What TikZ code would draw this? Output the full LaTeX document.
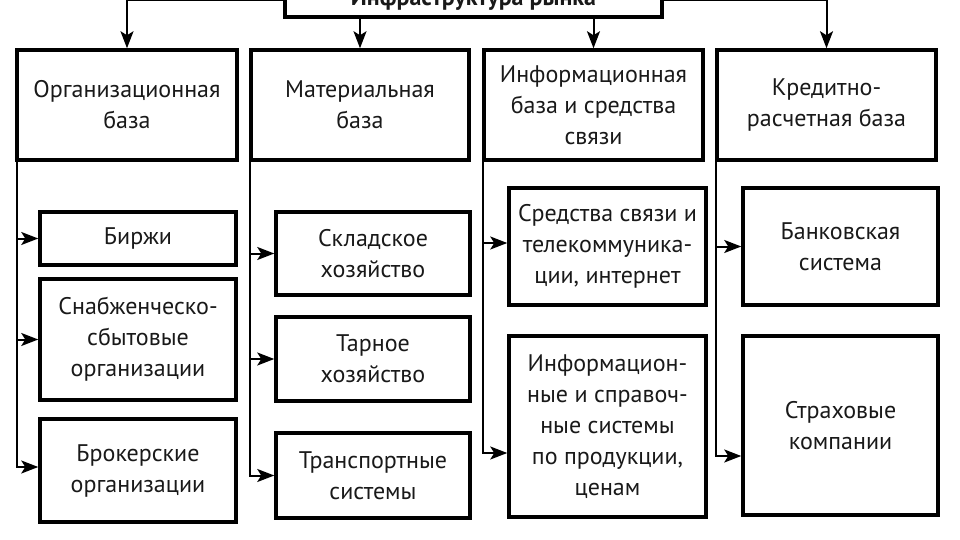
\documentclass[tikz,border=0pt]{standalone}
\usepackage{fontspec}
\setmainfont{PT Sans}
\usetikzlibrary{arrows.meta,calc}
\begin{document}
\begin{tikzpicture}[x=1pt,y=-1pt,
  box/.style={draw=black,line width=3.5pt,align=center,inner sep=2pt,
    font=\fontsize{24}{31}\selectfont,text=black!90},
  arr/.style={line width=2pt,-{Stealth[length=17pt,width=13pt,inset=4pt]}},
  ln/.style={line width=2pt}]
\useasboundingbox (0,0) rectangle (960,540);
\clip (0,0) rectangle (960,540);
% top
\node[box,minimum width=377pt,minimum height=34pt,font=\fontsize{24}{31}\selectfont\bfseries] (top) at (473.5,0) {Инфраструктура рынка};
% second row
\node[box,minimum width=220pt,minimum height=110pt] (b1) at (127,105) {Организационная\\база};
\node[box,minimum width=218pt,minimum height=110pt] (b2) at (360,105) {Материальная\\база};
\node[box,minimum width=219pt,minimum height=110pt] (b3) at (593.5,105) {Информационная\\база и средства\\связи};
\node[box,minimum width=219pt,minimum height=110pt] (b4) at (826.5,105) {Кредитно-\\расчетная база};
% column 1
\node[box,minimum width=196pt,minimum height=53pt] (s11) at (138,238.5) {Биржи};
\node[box,minimum width=196pt,minimum height=121pt] (s12) at (138,339.5) {Снабженческо-\\сбытовые\\организации};
\node[box,minimum width=196pt,minimum height=103pt] (s13) at (138,470.5) {Брокерские\\организации};
% column 2
\node[box,minimum width=194pt,minimum height=83pt] (s21) at (373,253.5) {Складское\\хозяйство};
\node[box,minimum width=194pt,minimum height=84pt] (s22) at (373,359) {Тарное\\хозяйство};
\node[box,minimum width=194pt,minimum height=85pt] (s23) at (373,475.5) {Транспортные\\системы};
% column 3
\node[box,minimum width=197pt,minimum height=117pt] (s31) at (607.5,246.5) {Средства связи и\\телекоммуника-\\ции, интернет};
\node[box,minimum width=197pt,minimum height=181pt] (s32) at (607.5,426.5) {Информацион-\\ные и справоч-\\ные системы\\по продукции,\\ценам};
% column 4
\node[box,minimum width=195pt,minimum height=117pt] (s41) at (840.5,246.5) {Банковская\\система};
\node[box,minimum width=195pt,minimum height=179pt] (s42) at (840.5,425.5) {Страховые\\компании};
% top connectors
\draw[arr] (top.west) -| (b1.north);
\draw[arr] (top.east) -| (b4.north);
\draw[arr] (b2.north |- top.south) -- (b2.north);
\draw[arr] (b3.north |- top.south) -- (b3.north);
% vertical trunks
\coordinate (v1) at ($(b1.south west)+(2,0)$);
\coordinate (v2) at ($(b2.south west)+(1,0)$);
\coordinate (v3) at ($(b3.south west)+(1,0)$);
\coordinate (v4) at ($(b4.south west)+(1,0)$);
\draw[arr] (v1) |- ($(s13.west)+(0,-3.5)$);
\draw[arr] (v1 |- s11.west) -- (s11.west);
\draw[arr] (v1 |- s12.west) -- (s12.west);
\draw[arr] (v2) |- (s23.west);
\draw[arr] (v2 |- s21.west) -- (s21.west);
\draw[arr] (v2 |- s22.west) -- (s22.west);
\draw[arr] (v3) |- ($(s32.west)+(0,26.5)$);
\draw[arr] ($(v3 |- s31.west)+(0,-3.5)$) -- ($(s31.west)+(0,-3.5)$);
\draw[arr] (v4) |- ($(s42.west)+(0,30.5)$);
\draw[arr] (v4 |- s41.west) -- (s41.west);
\end{tikzpicture}
\end{document}
